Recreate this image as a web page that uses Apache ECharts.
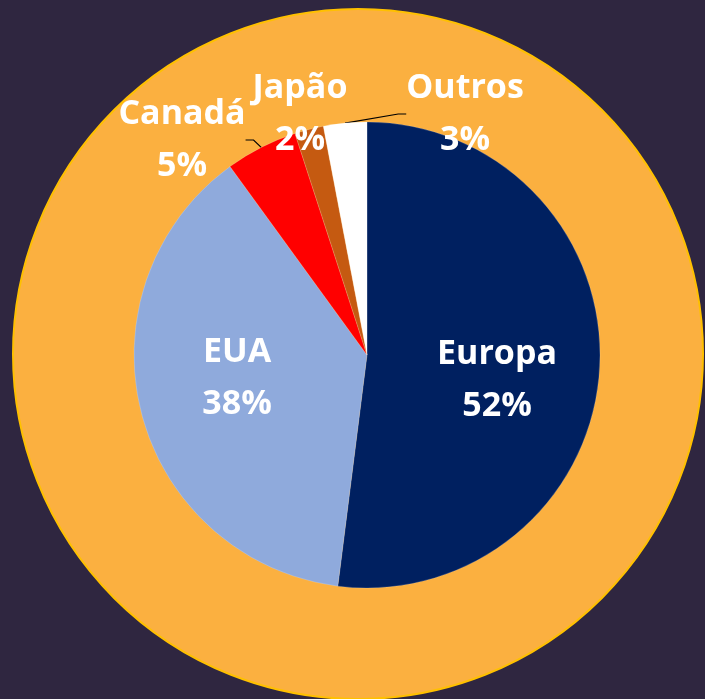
<!DOCTYPE html>
<html>
<head>
<meta charset="utf-8">
<script src="https://cdn.jsdelivr.net/npm/echarts@6/dist/echarts.min.js"></script>
<style>
  html, body { margin: 0; padding: 0; background: #2f2640; }
  #container { width: 705px; height: 699px; }
</style>
</head>
<body>
<div id="container"></div>
<script>
// dados do grafico
var regions = ['Europa', 'EUA', 'Canadá', 'Japão', 'Outros'];
var shares = [52, 38, 5, 2, 3];
var sliceColors = ['#002060', '#8faadc', '#ff0000', '#c55a11', '#ffffff'];

// onde fica cada rotulo (centro do texto)
var labelPos = {
    'Europa': [497, 380],
    'EUA': [237, 378],
    'Canadá': [182, 140],
    'Japão': [300, 114],
    'Outros': [465, 114]
};
var inside = { 'Europa': true, 'EUA': true };
var withLine = { 'Canadá': true, 'Outros': true };

var myChart = echarts.init(document.getElementById('container'));

var pieData = regions.map(function (name, i) {
    return {
        name: name,
        value: shares[i],
        itemStyle: { color: sliceColors[i] },
        label: { position: inside[name] ? 'inside' : 'outside' },
        labelLine: { show: !!withLine[name] }
    };
});

var option = {
    backgroundColor: '#2f2640',
    animation: false,
    series: [{
        // anel laranja de fundo
        type: 'pie',
        silent: true,
        z: 1,
        center: [358, 354],
        radius: [0, 345],
        label: { show: false },
        labelLine: { show: false },
        itemStyle: { color: '#fbb040', borderColor: '#ffc000', borderWidth: 2 },
        data: [{ name: 'fundo', value: 1 }]
    }, {
        type: 'pie',
        z: 3,
        center: [367, 355],
        radius: [0, 233],
        startAngle: 90,
        clockwise: true,
        itemStyle: { borderColor: 'rgba(255,255,255,0.35)', borderWidth: 0.5 },
        label: {
            show: true,
            formatter: '{b}\n{d}%',
            color: '#ffffff',
            fontFamily: 'Open Sans',
            fontWeight: 'bold',
            fontSize: 34,
            lineHeight: 52,
            align: 'center',
            overflow: 'none'
        },
        labelLine: {
            length: 6,
            length2: 8,
            lineStyle: { color: '#000000', width: 1.2 }
        },
        labelLayout: function (params) {
            var name = regions[params.dataIndex];
            var p = labelPos[name];
            return { x: p[0], y: p[1], align: 'center', verticalAlign: 'middle' };
        },
        data: pieData
    }]
};

myChart.setOption(option);
</script>
</body>
</html>
